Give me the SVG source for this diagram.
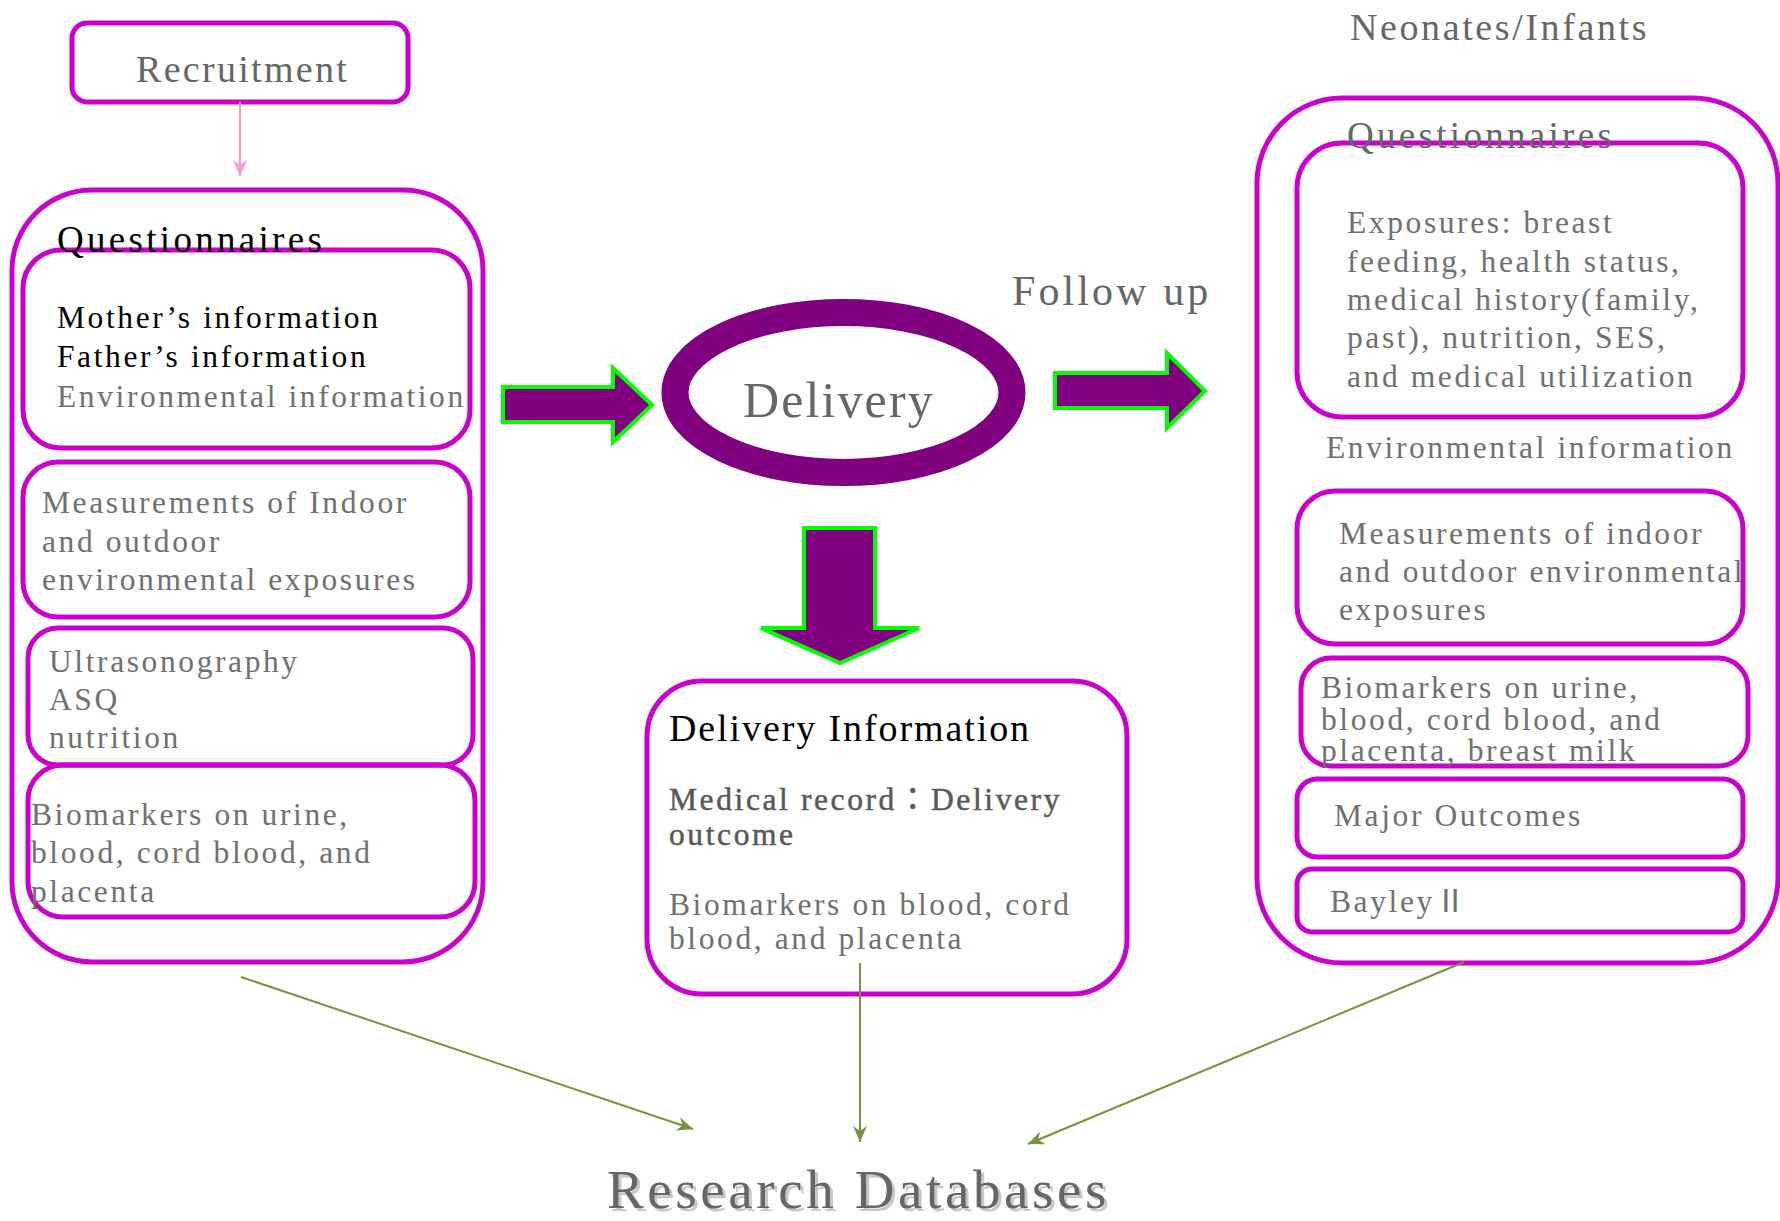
<svg xmlns="http://www.w3.org/2000/svg" width="1780" height="1221" viewBox="0 0 1780 1221">
<defs>
<style>
.box{fill:none;stroke:#CC00CC;stroke-width:5}
.t{font-family:"Liberation Serif","Noto Sans CJK KR",serif;font-size:31.5px;letter-spacing:2.6px;fill:#707070}
.k{fill:#000}
.big{fill:#666}
.arr{fill:#800080;stroke:#00FF00;stroke-width:4;stroke-linejoin:miter}
.conn{stroke:#77933C;stroke-width:2;fill:none;marker-end:url(#ga)}
</style>
<marker id="ga" viewBox="0 0 16 14" refX="16" refY="7" markerWidth="16" markerHeight="14" markerUnits="userSpaceOnUse" orient="auto">
<path d="M0,0 L16,7 L0,14 L5,7 z" fill="#77933C"/>
</marker>
<marker id="pa" viewBox="0 0 16 14" refX="16" refY="7" markerWidth="16" markerHeight="14" markerUnits="userSpaceOnUse" orient="auto">
<path d="M0,0 L16,7 L0,14 L5,7 z" fill="#FF99CC"/>
</marker>
</defs>
<rect width="1780" height="1221" fill="#fff"/>

<g id="recruitment">
<rect class="box" x="72" y="23" width="336" height="79" rx="15"/>
<text class="t big" x="136" y="82" style="font-size:38px;letter-spacing:2.3px">Recruitment</text>
</g>

<g id="mother-panel">
<rect class="box" x="12" y="190" width="471" height="772" rx="80"/>
<rect class="box" x="23" y="250" width="447" height="198" rx="38"/>
<rect class="box" x="23" y="462" width="447" height="155" rx="35"/>
<rect class="box" x="28" y="628" width="445" height="137" rx="30"/>
<rect class="box" x="28" y="765" width="447" height="152" rx="35"/>
<text class="t k" x="57" y="252" style="font-size:37px;letter-spacing:3.3px">Questionnaires</text>
<text class="t k" x="57" y="328">Mother’s information</text>
<text class="t k" x="57" y="367">Father’s information</text>
<text class="t" x="57" y="407">Environmental information</text>
<text class="t" x="42" y="513">Measurements of Indoor</text>
<text class="t" x="42" y="552">and outdoor</text>
<text class="t" x="42" y="590">environmental exposures</text>
<text class="t" x="49" y="672">Ultrasonography</text>
<text class="t" x="49" y="710">ASQ</text>
<text class="t" x="49" y="748">nutrition</text>
<text class="t" x="31" y="825">Biomarkers on urine,</text>
<text class="t" x="31" y="863">blood, cord blood, and</text>
<text class="t" x="31" y="902">placenta</text>
</g>

<g id="delivery">
<ellipse cx="843.5" cy="392.5" rx="168.5" ry="80" fill="none" stroke="#800080" stroke-width="27"/>
<text class="t big" x="743" y="417" style="font-size:50px;letter-spacing:2.1px">Delivery</text>
</g>

<g id="follow-up-label">
<text class="t big" x="1012" y="305" style="font-size:42px;letter-spacing:3.1px">Follow up</text>
</g>

<g id="delivery-info">
<rect class="box" x="647" y="681" width="480" height="313" rx="55"/>
<text class="t k" x="669" y="741" style="font-size:38px;letter-spacing:1.9px">Delivery Information</text>
<text class="t" x="669" y="810" style="fill:#595959;stroke:#595959;stroke-width:0.5">Medical record：Delivery</text>
<text class="t" x="669" y="845" style="fill:#595959;stroke:#595959;stroke-width:0.5">outcome</text>
<text class="t" x="669" y="915">Biomarkers on blood, cord</text>
<text class="t" x="669" y="949">blood, and placenta</text>
</g>

<g id="infant-panel">
<text class="t big" x="1350" y="40" style="font-size:38px;letter-spacing:2.6px">Neonates/Infants</text>
<rect class="box" x="1257" y="98" width="521" height="865" rx="85"/>
<rect class="box" x="1297" y="143" width="446" height="274" rx="45"/>
<rect class="box" x="1297" y="491" width="446" height="153" rx="38"/>
<rect class="box" x="1301" y="658" width="447" height="108" rx="30"/>
<rect class="box" x="1297" y="779" width="446" height="78" rx="20"/>
<rect class="box" x="1297" y="869" width="446" height="63" rx="15"/>
<text class="t big" x="1347" y="148" style="font-size:37px;letter-spacing:3.3px">Questionnaires</text>
<text class="t" x="1347" y="233">Exposures: breast</text>
<text class="t" x="1347" y="272">feeding, health status,</text>
<text class="t" x="1347" y="310">medical history(family,</text>
<text class="t" x="1347" y="348">past), nutrition, SES,</text>
<text class="t" x="1347" y="387">and medical utilization</text>
<text class="t" x="1326" y="458">Environmental information</text>
<text class="t" x="1339" y="544">Measurements of indoor</text>
<text class="t" x="1339" y="582">and outdoor environmental</text>
<text class="t" x="1339" y="620">exposures</text>
<text class="t" x="1321" y="698">Biomarkers on urine,</text>
<text class="t" x="1321" y="730">blood, cord blood, and</text>
<text class="t" x="1321" y="761">placenta, breast milk</text>
<text class="t" x="1334" y="826">Major Outcomes</text>
<text class="t" x="1330" y="912">BayleyⅡ</text>
</g>

<g id="research-databases">
<text class="t" x="610" y="1211" style="font-size:55px;letter-spacing:3.6px;fill:#c8c8c8">Research Databases</text>
<text class="t big" x="607" y="1208" style="font-size:55px;letter-spacing:3.6px">Research Databases</text>
</g>

<g id="connectors">
<line x1="240" y1="102" x2="240" y2="176" stroke="#FF99CC" stroke-width="2" marker-end="url(#pa)"/>
<polygon class="arr" points="503,387 613,387 613,368 652,405 613,442 613,422 503,422"/>
<polygon class="arr" points="1055,373 1167,373 1167,353 1205,391 1167,428 1167,408 1055,408"/>
<polygon class="arr" points="804,528 875,528 875,628 919,628 840,663 761,628 804,628"/>
<line class="conn" x1="241" y1="977" x2="693" y2="1129"/>
<line class="conn" x1="860" y1="963" x2="860" y2="1142"/>
<line class="conn" x1="1464" y1="962" x2="1028" y2="1144"/>
</g>
</svg>
